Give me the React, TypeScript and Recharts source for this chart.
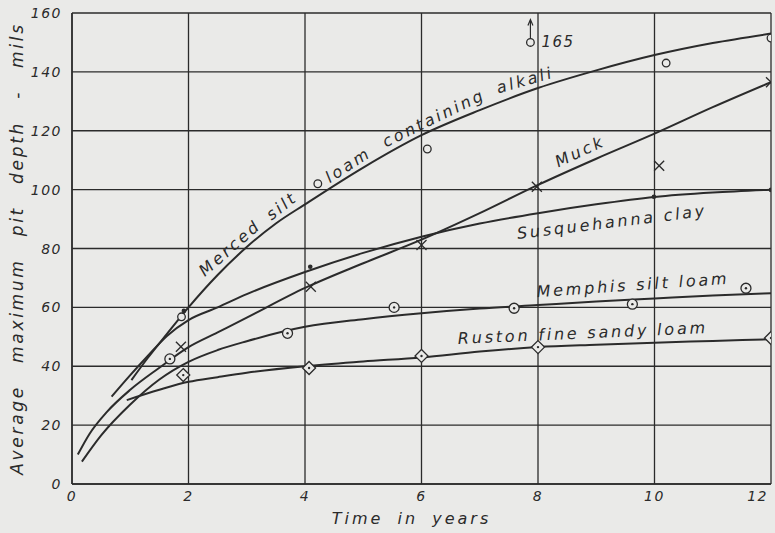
import React from "react";
import {
    ComposedChart,
    Line,
    Scatter,
    XAxis,
    YAxis,
    CartesianGrid,
    ReferenceDot,
    Label,
} from "recharts";

// axis ticks
const yearTicks = [0, 2, 4, 6, 8, 10, 12];
const depthTicks = [0, 20, 40, 60, 80, 100, 120, 140, 160];

// fitted curves as [years, mils]
const mercedCurve = [
    [1.02, 35.3], [1.3, 42.8], [1.63, 51], [2, 60], [2.5, 71], [3, 80.5],
    [3.5, 88.5], [4, 95], [5, 107.5], [6, 118.5], [7, 127], [8, 134.5],
    [9, 140.5], [10, 145.7], [11, 149.8], [12, 153],
];
const susqCurve = [
    [0.68, 29.7], [1, 37], [1.3, 43.5], [1.63, 50.3], [2, 55.7], [2.5, 60],
    [3, 64.5], [4, 72], [5, 78.5], [6, 84], [7, 88.5], [8, 92], [9, 95],
    [10, 97.5], [11, 99], [12, 100],
];
const muckCurve = [
    [0.1, 10], [0.3, 17], [0.6, 24.5], [1, 32], [1.5, 39.5], [2, 46.5],
    [2.5, 51.5], [3, 56.5], [4, 66.6], [5, 75], [6, 83], [7, 92],
    [8, 101.6], [9, 110.5], [10, 119], [11, 128], [12, 136.5],
];
const memphisCurve = [
    [0.17, 7.6], [0.5, 16.5], [1, 27], [1.5, 35.5], [2, 41.5], [2.5, 45.5],
    [3, 48.5], [4, 53.4], [5, 56], [6, 58], [7, 59.6], [8, 60.8], [9, 62],
    [10, 63], [11, 64], [12, 64.8],
];
const rustonCurve = [
    [0.94, 28.5], [1.5, 32], [2, 34.7], [2.5, 36.3], [3, 37.8], [4, 40],
    [5, 41.6], [6, 43], [7, 45], [8, 46.5], [9, 47.3], [10, 48],
    [11, 48.6], [12, 49.2],
];

// measured points
const mercedPoints = [[1.88, 56.8], [4.22, 102], [6.1, 113.8], [7.87, 150], [10.2, 143], [12, 151.5]];
const susqPoints = [[1.92, 58.8], [4.09, 73.8], [9.99, 97.6], [12, 99.9]];
const muckPoints = [[1.87, 46.6], [4.1, 67], [6, 81.2], [7.98, 101], [10.08, 108.1], [12, 136.5]];
const memphisPoints = [[1.68, 42.5], [3.7, 51.2], [5.53, 60], [7.59, 59.7], [9.62, 61.1], [11.57, 66.5]];
const rustonPoints = [[1.91, 37], [4.07, 39.4], [6, 43.5], [8, 46.5], [12, 49.6]];

// curve captions (word, years, mils, angle)
const captions = [
    ["Merced", 2.71, 80.2, -41],
    ["silt", 3.6, 94.5, -38],
    ["loam", 4.74, 108.4, -33],
    ["containing", 6.21, 124.3, -26],
    ["alkali", 7.78, 137.2, -16],
    ["Muck", 8.72, 113, -25],
    ["Susquehanna clay", 9.27, 89, -7],
    ["Memphis silt loam", 9.63, 67.6, -4],
    ["Ruston fine sandy loam", 8.77, 51.3, -2.5],
];

const INK = "#2b2b2b";
const PAPER = "#eaeae8";
const FONT = "'DejaVu Sans', sans-serif";

const rows = (pts: number[][]) => pts.map(([x, y]) => ({ x, y }));

const OpenCircle = (p: any) => (
    <circle cx={p.cx} cy={p.cy} r={3.8} fill={PAPER} stroke={INK} strokeWidth={1.3} />
);
const SmallDot = (p: any) => <circle cx={p.cx} cy={p.cy} r={2.3} fill={INK} />;
const Cross = (p: any) => {
    const s = 5;
    return (
        <g stroke={INK} strokeWidth={1.3}>
            <line x1={p.cx - s} y1={p.cy - s} x2={p.cx + s} y2={p.cy + s} />
            <line x1={p.cx - s} y1={p.cy + s} x2={p.cx + s} y2={p.cy - s} />
        </g>
    );
};
const CircleDot = (p: any) => (
    <g>
        <circle cx={p.cx} cy={p.cy} r={5} fill={PAPER} stroke={INK} strokeWidth={1.3} />
        <circle cx={p.cx} cy={p.cy} r={1.2} fill={INK} />
    </g>
);
const DiamondDot = (p: any) => {
    const s = 6.5;
    return (
        <g>
            <path
                d={`M${p.cx},${p.cy - s}L${p.cx + s},${p.cy}L${p.cx},${p.cy + s}L${p.cx - s},${p.cy}Z`}
                fill={PAPER}
                stroke={INK}
                strokeWidth={1.3}
            />
            <circle cx={p.cx} cy={p.cy} r={1.2} fill={INK} />
        </g>
    );
};

const textStyle = { fontFamily: FONT, fontStyle: "italic" as const, fill: INK };

const XTick = (props: any) => {
    const { x, y, payload } = props;
    const last = payload.value === 12;
    return (
        <text x={last ? x + 1 : x} y={y} dy="0.75em" textAnchor={last ? "end" : "middle"}
            fontSize={14} letterSpacing={1.5} style={textStyle}>
            {payload.value}
        </text>
    );
};

const YTick = (props: any) => {
    const { x, y, payload } = props;
    return (
        <text x={x} y={y} dy="0.36em" textAnchor="end" fontSize={14} letterSpacing={1.5} style={textStyle}>
            {payload.value}
        </text>
    );
};

export default function App() {
    return (
        <div style={{ position: "absolute", left: 0, top: 0, width: 775, height: 533, background: PAPER }}>
            <ComposedChart width={775} height={533} margin={{ top: 13, right: 4, left: 0, bottom: 0 }}>
                <CartesianGrid stroke={INK} strokeWidth={1.3} />
                <XAxis
                    type="number"
                    dataKey="x"
                    domain={[0, 12]}
                    ticks={yearTicks}
                    height={49}
                    tickSize={0}
                    tickMargin={6}
                    tick={<XTick />}
                    axisLine={{ stroke: INK, strokeWidth: 1.5 }}
                    allowDataOverflow
                >
                    <Label
                        content={(p: any) => (
                            <text x={p.viewBox.x + p.viewBox.width / 2 - 10} y={p.viewBox.y + 40}
                                textAnchor="middle" fontSize={16} letterSpacing={3} wordSpacing={6} style={textStyle}>
                                Time in years
                            </text>
                        )}
                    />
                </XAxis>
                <YAxis
                    type="number"
                    dataKey="y"
                    domain={[0, 160]}
                    ticks={depthTicks}
                    width={72}
                    tickSize={0}
                    tickMargin={10}
                    tick={<YTick />}
                    axisLine={{ stroke: INK, strokeWidth: 1.5 }}
                    allowDataOverflow
                >
                    <Label
                        content={(p: any) => {
                            const cy = p.viewBox.y + p.viewBox.height / 2;
                            return (
                                <text x={17} y={cy} transform={`rotate(-90 17 ${cy})`} textAnchor="middle"
                                    dominantBaseline="central" fontSize={17} letterSpacing={2.7} wordSpacing={14}
                                    style={textStyle}>
                                    Average maximum pit depth - mils
                                </text>
                            );
                        }}
                    />
                </YAxis>

                <Line data={rows(mercedCurve)} dataKey="y" type="monotone" stroke={INK} strokeWidth={2} dot={false} isAnimationActive={false} />
                <Line data={rows(susqCurve)} dataKey="y" type="monotone" stroke={INK} strokeWidth={2} dot={false} isAnimationActive={false} />
                <Line data={rows(muckCurve)} dataKey="y" type="monotone" stroke={INK} strokeWidth={2} dot={false} isAnimationActive={false} />
                <Line data={rows(memphisCurve)} dataKey="y" type="monotone" stroke={INK} strokeWidth={2} dot={false} isAnimationActive={false} />
                <Line data={rows(rustonCurve)} dataKey="y" type="monotone" stroke={INK} strokeWidth={2} dot={false} isAnimationActive={false} />

                <Scatter data={rows(mercedPoints)} shape={OpenCircle} isAnimationActive={false} />
                <Scatter data={rows(susqPoints)} shape={SmallDot} isAnimationActive={false} />
                <Scatter data={rows(muckPoints)} shape={Cross} isAnimationActive={false} />
                <Scatter data={rows(memphisPoints)} shape={CircleDot} isAnimationActive={false} />
                <Scatter data={rows(rustonPoints)} shape={DiamondDot} isAnimationActive={false} />

                {/* off-scale point: true value 165 */}
                <ReferenceDot
                    x={mercedPoints[3][0]}
                    y={mercedPoints[3][1]}
                    r={0}
                    shape={(p: any) => (
                        <g>
                            <line x1={p.cx} y1={p.cy - 4} x2={p.cx} y2={p.cy - 22} stroke={INK} strokeWidth={1.2} />
                            <path d={`M${p.cx - 2.5},${p.cy - 17}L${p.cx},${p.cy - 23}L${p.cx + 2.5},${p.cy - 17}`} fill="none" stroke={INK} strokeWidth={1.2} />
                            <text x={p.cx + 11} y={p.cy + 5} fontSize={15} letterSpacing={1.5} style={textStyle}>165</text>
                        </g>
                    )}
                />

                {captions.map(([word, x, y, angle]) => (
                    <ReferenceDot
                        key={word as string}
                        x={x as number}
                        y={y as number}
                        r={0}
                        shape={(p: any) => (
                            <text x={p.cx} y={p.cy} transform={`rotate(${angle} ${p.cx} ${p.cy})`}
                                textAnchor="middle" dominantBaseline="central" fontSize={16} letterSpacing={2.8}
                                style={textStyle}>
                                {word}
                            </text>
                        )}
                    />
                ))}
            </ComposedChart>
        </div>
    );
}
